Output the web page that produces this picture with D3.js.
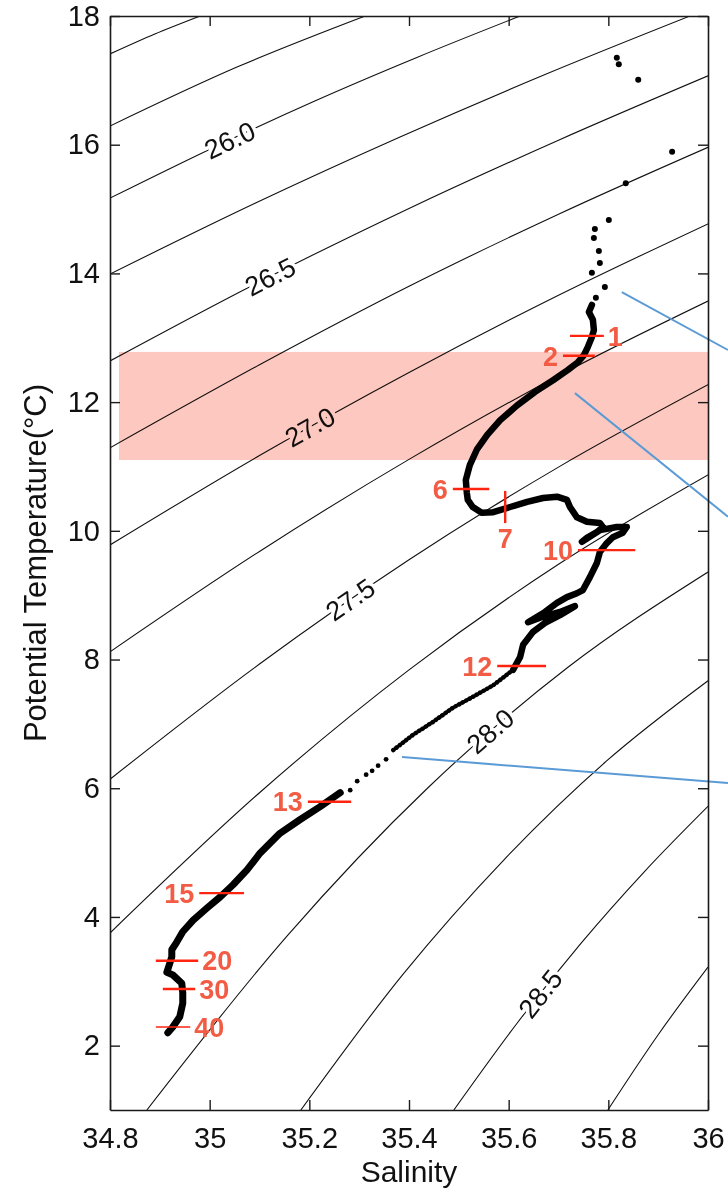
<!DOCTYPE html>
<html>
<head>
<meta charset="utf-8">
<script src="https://cdn.jsdelivr.net/npm/d3@7"></script>
<style>
  body { margin: 0; background: #fff; }
  svg { display: block; font-family: "Liberation Sans", Arial, Helvetica, sans-serif; }
</style>
</head>
<body>
<script>
// density (sigma-theta) contours, traced as [salinity, potential temperature]
var levels = [25.5, 25.75, 26.0, 26.25, 26.5, 26.75, 27.0, 27.25, 27.5, 27.75, 28.0, 28.25, 28.5, 28.75];
var contourPts = [
    [[34.80, 17.41], [34.890, 17.72], [34.981, 18.0]],
    [[34.80, 16.29], [35.056, 17.21], [35.312, 18.0]],
    [[34.80, 15.17], [35.006, 15.95], [35.211, 16.68], [35.417, 17.36], [35.623, 18.0]],
    [[34.80, 13.99], [35.091, 15.09], [35.382, 16.12], [35.673, 17.09], [35.964, 18.0]],
    [[34.80, 12.64], [35.100, 13.87], [35.400, 15.01], [35.700, 16.07], [36.0, 17.07]],
    [[34.80, 11.29], [35.100, 12.58], [35.400, 13.80], [35.700, 14.92], [36.0, 15.96]],
    [[34.80, 9.78], [35.100, 11.17], [35.400, 12.46], [35.700, 13.66], [36.0, 14.77]],
    [[34.80, 8.12], [35.100, 9.68], [35.400, 11.11], [35.700, 12.41], [36.0, 13.57]],
    [[34.80, 6.14], [35.100, 7.93], [35.400, 9.55], [35.700, 10.99], [36.0, 12.27]],
    [[34.80, 3.75], [35.100, 5.93], [35.400, 7.84], [35.700, 9.48], [36.0, 10.87]],
    [[34.874, 1.0], [35.156, 3.71], [35.437, 6.00], [35.719, 7.88], [36.0, 9.36]],
    [[35.183, 1.0], [35.387, 3.10], [35.592, 4.90], [35.796, 6.42], [36.0, 7.67]],
    [[35.490, 1.0], [35.618, 2.36], [35.745, 3.59], [35.873, 4.71], [36.0, 5.72]],
    [[35.799, 1.0], [35.900, 2.17], [36.0, 3.22]]
];
var labelLevels = [26.0, 26.5, 27.0, 27.5, 28.0, 28.5];
var labelS = [35.04, 35.121, 35.201, 35.282, 35.563, 35.663];

// T-S profile, surface to bottom
var surfDots = [[35.817, 17.35], [35.821, 17.25], [35.860, 17.01], [35.928, 15.89], [35.835, 15.40],
    [35.801, 14.83], [35.773, 14.69], [35.771, 14.55], [35.781, 14.35], [35.783, 14.16],
    [35.767, 14.01], [35.793, 13.79], [35.775, 13.62]];
var upperProfile = [[35.767, 13.51], [35.761, 13.40], [35.769, 13.28], [35.771, 13.12], [35.767, 13.01],
    [35.759, 12.86], [35.751, 12.73], [35.739, 12.62], [35.719, 12.50], [35.689, 12.34], [35.653, 12.16],
    [35.617, 11.95], [35.583, 11.72], [35.557, 11.49], [35.536, 11.26], [35.522, 11.02], [35.514, 10.79],
    [35.516, 10.59], [35.518, 10.48], [35.528, 10.37], [35.546, 10.28], [35.569, 10.29], [35.603, 10.37],
    [35.637, 10.45], [35.669, 10.51], [35.697, 10.53], [35.717, 10.48], [35.723, 10.37], [35.737, 10.21],
    [35.757, 10.14], [35.783, 10.12], [35.789, 10.06], [35.777, 9.98], [35.757, 9.89], [35.747, 9.83],
    [35.783, 10.01], [35.817, 10.06], [35.837, 10.06], [35.829, 9.97], [35.809, 9.90], [35.797, 9.81],
    [35.783, 9.67], [35.777, 9.50], [35.763, 9.28], [35.749, 9.08], [35.737, 9.03], [35.717, 8.97],
    [35.697, 8.88], [35.673, 8.74], [35.639, 8.58], [35.663, 8.65], [35.703, 8.74], [35.733, 8.83],
    [35.703, 8.69], [35.673, 8.57], [35.649, 8.43], [35.629, 8.23], [35.623, 8.04], [35.609, 7.84]];
var thinProfile = [[35.609, 7.84], [35.569, 7.60], [35.528, 7.42], [35.488, 7.25], [35.448, 7.03],
    [35.408, 6.83], [35.368, 6.59]];
var gapDots = [[35.354, 6.45], [35.338, 6.35], [35.326, 6.27], [35.314, 6.21], [35.296, 6.11], [35.282, 5.97]];
var deepProfile = [[35.262, 5.93], [35.221, 5.71], [35.181, 5.51], [35.141, 5.30], [35.101, 4.99],
    [35.075, 4.73], [35.047, 4.50], [35.021, 4.31], [34.995, 4.14], [34.967, 3.95], [34.946, 3.77],
    [34.934, 3.61], [34.924, 3.49], [34.924, 3.38], [34.920, 3.28], [34.914, 3.14], [34.926, 3.10],
    [34.944, 2.97], [34.946, 2.82], [34.946, 2.66], [34.940, 2.45], [34.926, 2.29], [34.916, 2.20]];

// depth markers
var markLabels = ['1', '2', '6', '7', '10', '12', '13', '15', '20', '30', '40'];
var markS0 = [35.723, 35.709, 35.488, 35.593, 35.739, 35.577, 35.197, 34.979, 34.892, 34.906, 34.892];
var markS1 = [35.791, 35.773, 35.561, 35.593, 35.854, 35.675, 35.284, 35.069, 34.977, 34.971, 34.961];
var markT0 = [13.03, 12.72, 10.65, 10.62, 9.70, 7.90, 5.79, 4.37, 3.32, 2.88, 2.29];
var markT1 = [13.03, 12.72, 10.65, 10.12, 9.70, 7.90, 5.79, 4.37, 3.32, 2.88, 2.29];
var markSide = ['r', 'l', 'l', 'b', 'l', 'l', 'l', 'l', 'r', 'r', 'r'];

// highlighted band and pointer lines
var bandS = [34.818, 36.0];
var bandT = [11.10, 12.78];
var pointers = [
    [[35.827, 13.71], [36.04, 12.81]],
    [[35.733, 12.14], [36.04, 10.22]],
    [[35.386, 6.485], [36.04, 6.08]]
];

var xTicks = [34.8, 35, 35.2, 35.4, 35.6, 35.8, 36];
var yTicks = [2, 4, 6, 8, 10, 12, 14, 16, 18];

var svg = d3.select('body').append('svg')
    .attr('width', 728)
    .attr('height', 1192);

var margin = { top: 16, right: 20, bottom: 82, left: 110 },
    width = +svg.attr('width') - margin.left - margin.right,
    height = +svg.attr('height') - margin.top - margin.bottom,
    g = svg.append('g').attr('transform', 'translate(' + margin.left + ',' + margin.top + ')');

var x = d3.scaleLinear().domain([34.8, 36]).range([0, width]);
var y = d3.scaleLinear().domain([1, 18]).range([height, 0]);

svg.append('defs').append('clipPath').attr('id', 'plot')
    .append('rect').attr('width', width).attr('height', height);

var smooth = d3.line()
    .x(function (d) { return x(d[0]); })
    .y(function (d) { return y(d[1]); })
    .curve(d3.curveMonotoneX);
var straight = d3.line()
    .x(function (d) { return x(d[0]); })
    .y(function (d) { return y(d[1]); });

// contours
var contourPaths = g.append('g').attr('clip-path', 'url(#plot)')
    .selectAll('path')
    .data(contourPts)
    .enter().append('path')
    .attr('d', smooth)
    .attr('fill', 'none')
    .attr('stroke', '#111')
    .attr('stroke-width', 1.1);

// contour labels sit on the drawn curve
labelLevels.forEach(function (lv, i) {
    var node = contourPaths.nodes()[levels.indexOf(lv)];
    var len = node.getTotalLength(), tx = x(labelS[i]), lo = 0, hi = len;
    for (var k = 0; k < 30; k++) {
        var mid = (lo + hi) / 2;
        if (node.getPointAtLength(mid).x < tx) lo = mid; else hi = mid;
    }
    var p = node.getPointAtLength(lo),
        p1 = node.getPointAtLength(Math.max(0, lo - 8)),
        p2 = node.getPointAtLength(Math.min(len, lo + 8));
    var ang = Math.atan2(p2.y - p1.y, p2.x - p1.x) * 180 / Math.PI;
    g.append('text')
        .attr('transform', 'translate(' + p.x + ',' + p.y + ') rotate(' + ang + ')')
        .attr('text-anchor', 'middle')
        .attr('dy', '0.36em')
        .attr('fill', '#111')
        .attr('stroke', '#fff')
        .attr('stroke-width', 7)
        .attr('paint-order', 'stroke')
        .style('font-size', '27px')
        .text(d3.format('.1f')(lv));
});

// profile
function profPath(data, w, dash) {
    g.append('path').datum(data)
        .attr('d', straight)
        .attr('fill', 'none')
        .attr('stroke', '#000')
        .attr('stroke-width', w)
        .attr('stroke-dasharray', dash || null)
        .attr('stroke-linejoin', 'round')
        .attr('stroke-linecap', 'round');
}
profPath(deepProfile, 7);
profPath(thinProfile, 4.5, '0.5,3.5');
profPath(upperProfile, 6.5);

g.selectAll('circle.gap').data(gapDots).enter().append('circle')
    .attr('class', 'gap')
    .attr('cx', function (d) { return x(d[0]); })
    .attr('cy', function (d) { return y(d[1]); })
    .attr('r', 2.4);
g.selectAll('circle.surf').data(surfDots).enter().append('circle')
    .attr('class', 'surf')
    .attr('cx', function (d) { return x(d[0]); })
    .attr('cy', function (d) { return y(d[1]); })
    .attr('r', 3);

// band
g.append('rect')
    .attr('x', x(bandS[0]))
    .attr('y', y(bandT[1]))
    .attr('width', x(bandS[1]) - x(bandS[0]))
    .attr('height', y(bandT[0]) - y(bandT[1]))
    .attr('fill', '#fdc8bf')
    .style('mix-blend-mode', 'multiply');

// depth markers
var marks = g.append('g').selectAll('g')
    .data(markLabels)
    .enter().append('g');

marks.append('line')
    .attr('x1', function (d, i) { return x(markS0[i]); })
    .attr('x2', function (d, i) { return x(markS1[i]); })
    .attr('y1', function (d, i) { return y(markT0[i]); })
    .attr('y2', function (d, i) { return y(markT1[i]); })
    .attr('stroke', '#ff2410')
    .attr('stroke-width', function (d) { return d === '40' ? 1.6 : 2.4; });

marks.append('text')
    .attr('x', function (d, i) {
        if (markSide[i] === 'l') return x(markS0[i]) - 5;
        if (markSide[i] === 'r') return x(markS1[i]) + 4;
        return x(markS0[i]);
    })
    .attr('y', function (d, i) { return markSide[i] === 'b' ? y(markT1[i]) + 5 : y(markT0[i]); })
    .attr('dy', function (d, i) { return markSide[i] === 'b' ? '0.72em' : '0.36em'; })
    .attr('text-anchor', function (d, i) {
        return markSide[i] === 'l' ? 'end' : (markSide[i] === 'r' ? 'start' : 'middle');
    })
    .attr('fill', '#f25c45')
    .style('font-size', '27px')
    .style('font-weight', 'bold')
    .text(function (d) { return d; });

// pointer lines
g.selectAll('path.pointer').data(pointers).enter().append('path')
    .attr('class', 'pointer')
    .attr('d', straight)
    .attr('stroke', '#5b9bd5')
    .attr('stroke-width', 2)
    .attr('fill', 'none');

// axes
function styleAxis(sel) {
    sel.select('.domain').attr('stroke', '#1a1a1a').attr('stroke-width', 1.6);
    sel.selectAll('.tick line').attr('stroke', '#1a1a1a').attr('stroke-width', 1.4);
    sel.selectAll('.tick text').attr('fill', '#111').style('font-size', '29px')
        .style('font-family', '"Liberation Sans", Arial, sans-serif');
}

g.append('g')
    .attr('transform', 'translate(0,' + height + ')')
    .call(d3.axisBottom(x).tickValues(xTicks).tickFormat(d3.format('')).tickSizeInner(-10).tickSizeOuter(0).tickPadding(17))
    .call(styleAxis);
g.append('g')
    .call(d3.axisTop(x).tickValues(xTicks).tickFormat('').tickSizeInner(-10).tickSizeOuter(0))
    .call(styleAxis);
g.append('g')
    .call(d3.axisLeft(y).tickValues(yTicks).tickSizeInner(-10).tickSizeOuter(0).tickPadding(10))
    .call(styleAxis);
g.append('g')
    .attr('transform', 'translate(' + width + ',0)')
    .call(d3.axisRight(y).tickValues(yTicks).tickFormat('').tickSizeInner(-10).tickSizeOuter(0))
    .call(styleAxis);

g.append('text')
    .attr('x', width / 2)
    .attr('y', height + 72)
    .attr('text-anchor', 'middle')
    .attr('fill', '#111')
    .style('font-size', '30px')
    .text('Salinity');

g.append('text')
    .attr('transform', 'translate(' + (-75) + ',' + (height / 2) + ') rotate(-90)')
    .attr('text-anchor', 'middle')
    .attr('dy', '0.36em')
    .attr('fill', '#111')
    .style('font-size', '31px')
    .text('Potential Temperature(°C)');
</script>
</body>
</html>
